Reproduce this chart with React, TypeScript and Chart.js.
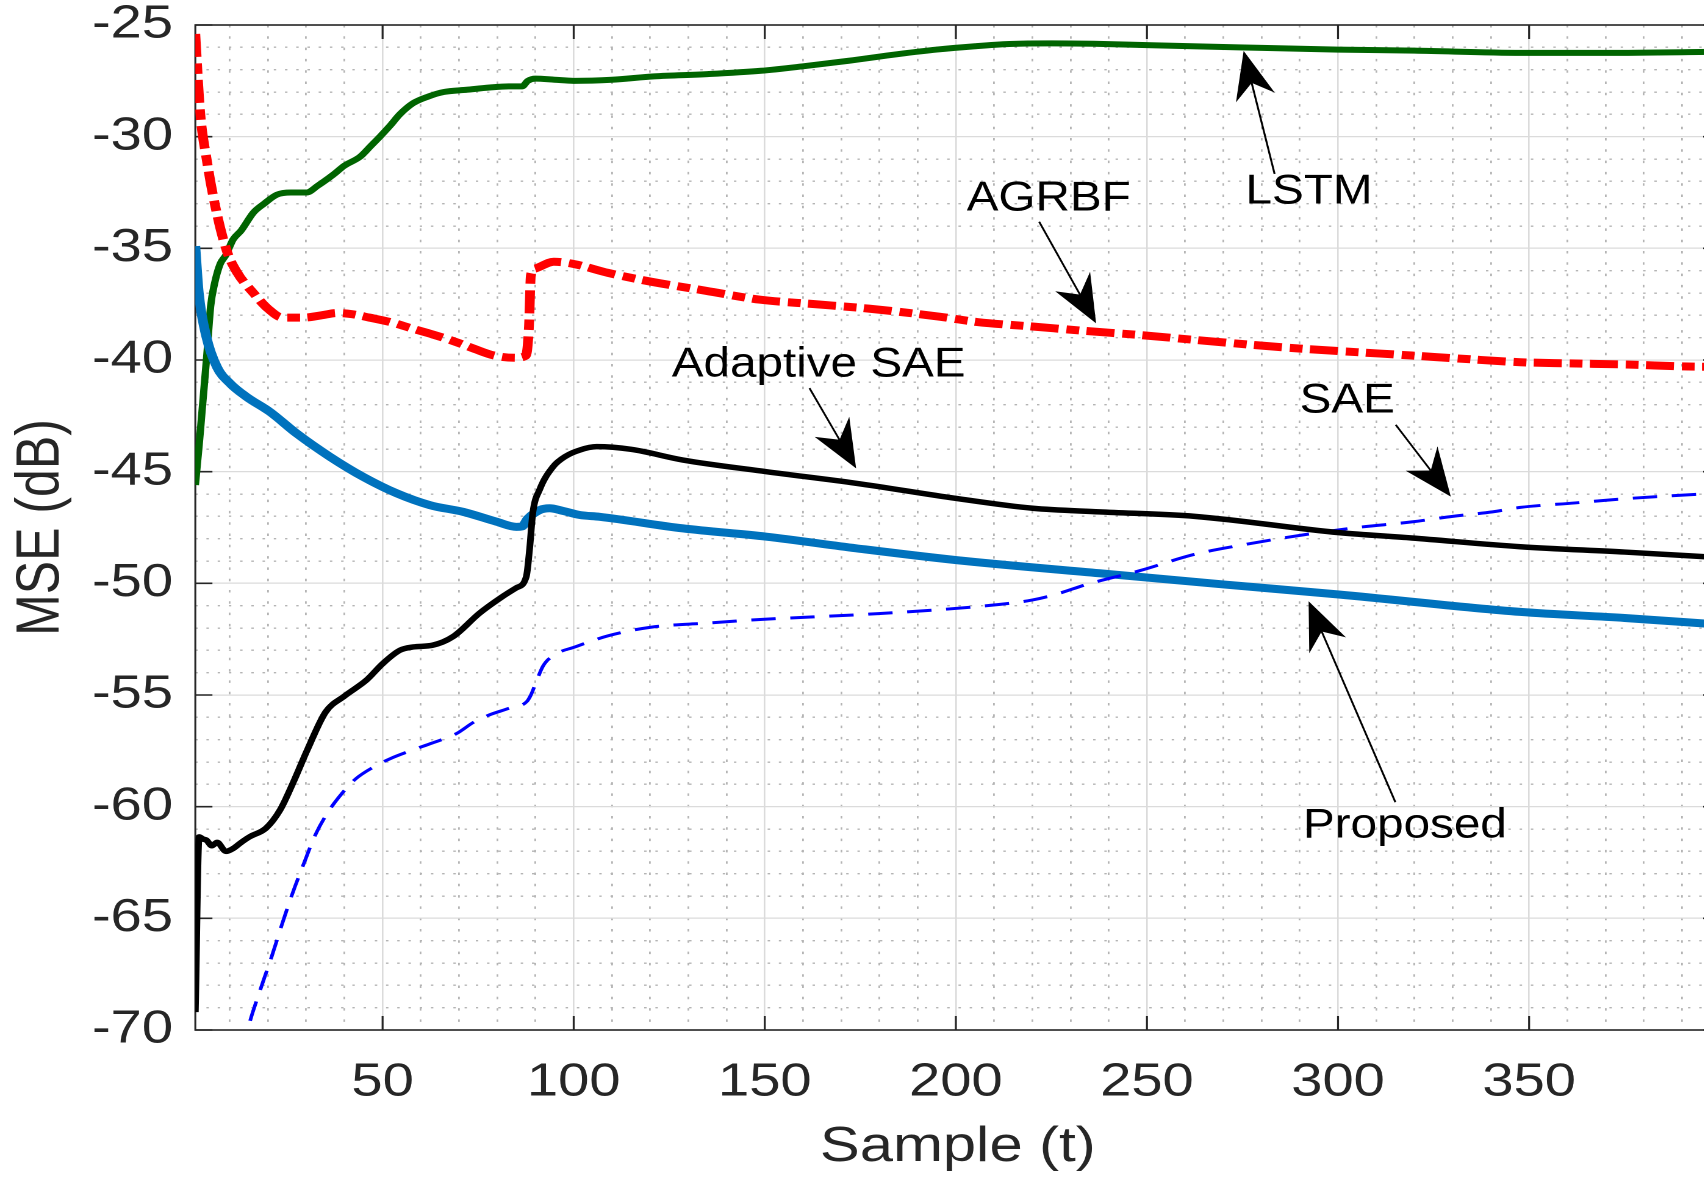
import React, { useEffect, useRef } from 'react';
import { Chart, registerables } from 'chart.js';

Chart.register(...registerables);

// ---------------- data ----------------
const lstmT = [1, 2, 3, 4, 5, 6, 7.5, 9, 10.9, 13, 16.2, 19, 22.3, 26, 30.1, 33, 37.1, 40, 44.1, 47, 49.3, 52, 54.5, 58, 62, 66, 72, 78, 83, 86.5, 88, 90, 95, 100, 110, 121, 135, 149, 160, 172, 185, 195, 205, 214, 225, 236, 250, 274, 300, 320, 348, 370, 400];
const lstmV = [-45.6, -43.8, -41.8, -39.8, -37.6, -36.6, -35.7, -35.3, -34.6, -34.2, -33.4, -33.0, -32.6, -32.5, -32.5, -32.2, -31.7, -31.3, -30.9, -30.4, -30.0, -29.5, -29.0, -28.5, -28.2, -28.0, -27.9, -27.8, -27.75, -27.75, -27.5, -27.4, -27.45, -27.5, -27.45, -27.3, -27.2, -27.05, -26.85, -26.6, -26.3, -26.1, -25.95, -25.85, -25.82, -25.84, -25.9, -26.0, -26.1, -26.15, -26.25, -26.25, -26.2];

const agrbfT = [1, 2.2, 4, 6.2, 9.2, 12, 16.2, 20, 23.8, 29.5, 34, 38, 42, 46.5, 52, 57.9, 63, 69.3, 74, 79.2, 84.9, 87.5, 88.3, 88.8, 90, 94.8, 100, 109, 120.4, 134.6, 148.8, 163, 177.2, 195.7, 205.6, 220, 234, 248, 262.5, 276, 290.9, 305, 319.3, 333, 347.7, 360, 375, 395.4, 400];
const agrbfV = [-25.4, -28.8, -31.05, -33.1, -35.1, -36.1, -37.0, -37.7, -38.1, -38.1, -38.0, -37.9, -37.95, -38.1, -38.3, -38.6, -38.85, -39.2, -39.5, -39.8, -39.9, -39.8, -38.5, -36.2, -35.9, -35.6, -35.7, -36.1, -36.5, -36.9, -37.3, -37.5, -37.7, -38.06, -38.3, -38.5, -38.7, -38.88, -39.1, -39.3, -39.5, -39.65, -39.8, -39.95, -40.1, -40.15, -40.2, -40.3, -40.3];

const adaptiveT = [1, 2, 3.0, 3.9, 5.3, 6.7, 9.0, 11.0, 13, 15.2, 19.5, 23.2, 26.6, 30.3, 35.1, 40, 45.8, 50, 54.5, 58, 63.1, 68.4, 75.4, 81.3, 85, 87.6, 88.5, 89.3, 91.1, 94.6, 98, 101.6, 106, 115, 128.6, 150.4, 173.9, 200.1, 220.1, 237.6, 262.5, 300.2, 319.3, 347.7, 375, 400];
const adaptiveV = [-69.2, -61.35, -61.45, -61.5, -61.75, -61.6, -62.0, -61.86, -61.6, -61.35, -60.96, -60.14, -58.92, -57.46, -55.76, -55.05, -54.33, -53.6, -53.0, -52.85, -52.77, -52.39, -51.33, -50.6, -50.2, -49.7, -48.4, -46.85, -45.8, -44.78, -44.3, -44.03, -43.88, -44.0, -44.48, -45.0, -45.52, -46.2, -46.64, -46.8, -47.0, -47.73, -47.97, -48.36, -48.6, -48.85];

const saeT = [13.5, 14.7, 18, 21, 24, 26.6, 29.5, 32.3, 35.5, 39.4, 43, 47.9, 52, 57.9, 63, 69.3, 74, 77.8, 83, 87.7, 88.8, 90, 92, 95, 100.5, 109, 120.4, 135, 148.8, 177.2, 205.6, 219.9, 227, 234, 248.2, 262.5, 276, 290.9, 305, 319.3, 330, 340.4, 347.7, 362, 376.1, 395.4, 400];
const saeV = [-71, -70, -68.2, -66.7, -65.1, -63.8, -62.5, -61.3, -60.3, -59.4, -58.75, -58.2, -57.85, -57.46, -57.15, -56.73, -56.2, -55.9, -55.6, -55.3, -55.0, -54.5, -53.7, -53.2, -52.84, -52.35, -51.96, -51.78, -51.62, -51.38, -51.04, -50.75, -50.45, -50.06, -49.43, -48.7, -48.25, -47.83, -47.5, -47.25, -47.0, -46.8, -46.6, -46.4, -46.2, -46.0, -45.95];

const proposedT = [1, 1.9, 3.9, 6.7, 10.1, 14.4, 20.5, 27.5, 36.2, 44.9, 53.7, 62.4, 71.1, 79.8, 85.0, 86.5, 88, 91.1, 93.7, 97, 101.6, 106.8, 128.6, 150.4, 173.9, 200.1, 237.6, 270, 300.2, 347.7, 375, 400];
const proposedV = [-34.9, -37.0, -38.97, -40.33, -41.05, -41.65, -42.32, -43.29, -44.33, -45.23, -45.97, -46.5, -46.8, -47.24, -47.47, -47.45, -47.1, -46.72, -46.64, -46.75, -46.94, -47.02, -47.54, -47.91, -48.43, -48.96, -49.55, -50.05, -50.5, -51.28, -51.55, -51.85];

// ticks
const xMajorTicks = [50, 100, 150, 200, 250, 300, 350, 400];
const xTickLabels = ['50', '100', '150', '200', '250', '300', '350', ''];
const yMajorTicks = [-70, -65, -60, -55, -50, -45, -40, -35, -30, -25];
const yTickLabels = ['-70', '-65', '-60', '-55', '-50', '-45', '-40', '-35', '-30', '-25'];

// annotations
const annoText = ['LSTM', 'AGRBF', 'Adaptive SAE', 'SAE', 'Proposed'];
const annoTextT = [292.4, 224.3, 164.1, 302.4, 317.5];
const annoTextV = [-32.48, -32.79, -40.23, -41.84, -60.87];
const annoTailT = [283.4, 221.8, 161.7, 315.1, 315.0];
const annoTailV = [-31.67, -33.81, -41.26, -42.9, -59.8];
const annoTipT = [275.3, 236.7, 173.9, 329.5, 292.3];
const annoTipV = [-26.16, -38.36, -44.85, -46.12, -50.8];

// ---------------- layout / style ----------------
const K = 1.22; // horizontal stretch of the whole figure
const CW = 1440;
const CH = 1180;
const PLOT_LEFT = 160.1;
const PLOT_RIGHT = 1411.1;
const FONT = "'Liberation Sans', Arial, Helvetica, sans-serif";
const AXIS_COLOR = '#262626';
const MAJOR_GRID = '#dbdbdb';
const MINOR_GRID = '#b4b4b4';

const pts = (t: number[], v: number[]) => t.map((x, i) => ({ x, y: v[i] }));

const xGridValues: number[] = [];
for (let v = 10; v <= 400; v += 10) xGridValues.push(v);
const yGridValues: number[] = [];
for (let v = -70; v <= -25; v += 1) yGridValues.push(v);

const boxPlugin = {
  id: 'matlabBox',
  beforeDatasetsDraw(chart: any) {
    const { ctx, chartArea } = chart;
    const { left, right, top, bottom } = chartArea;
    const xs = chart.scales.x;
    const ys = chart.scales.y;
    ctx.save();
    ctx.strokeStyle = AXIS_COLOR;
    ctx.lineWidth = 1.6;
    ctx.setLineDash([]);
    ctx.strokeRect(left, top, right - left, bottom - top);
    const tl = 14;
    ctx.beginPath();
    xMajorTicks.forEach((v) => {
      const px = xs.getPixelForValue(v);
      ctx.moveTo(px, bottom);
      ctx.lineTo(px, bottom - tl);
      ctx.moveTo(px, top);
      ctx.lineTo(px, top + tl);
    });
    yMajorTicks.forEach((v) => {
      const py = ys.getPixelForValue(v);
      ctx.moveTo(left, py);
      ctx.lineTo(left + tl, py);
      ctx.moveTo(right, py);
      ctx.lineTo(right - tl, py);
    });
    ctx.stroke();
    ctx.restore();
  },
};

const annoPlugin = {
  id: 'annotations',
  afterDatasetsDraw(chart: any) {
    const { ctx } = chart;
    const xs = chart.scales.x;
    const ys = chart.scales.y;
    ctx.save();
    ctx.fillStyle = '#000';
    ctx.strokeStyle = '#000';
    ctx.lineWidth = 1.6;
    ctx.setLineDash([]);
    for (let i = 0; i < annoText.length; i++) {
      // arrow computed in screen space (x * K), drawn in chart space
      const tx = xs.getPixelForValue(annoTailT[i]) * K;
      const ty = ys.getPixelForValue(annoTailV[i]);
      const hx = xs.getPixelForValue(annoTipT[i]) * K;
      const hy = ys.getPixelForValue(annoTipV[i]);
      const dx = hx - tx;
      const dy = hy - ty;
      const len = Math.hypot(dx, dy);
      const ux = dx / len;
      const uy = dy / len;
      const px = -uy;
      const py = ux;
      const L = 48;
      const W = 20;
      const N = 33;
      const nx = hx - ux * N;
      const ny = hy - uy * N;
      ctx.beginPath();
      ctx.moveTo(tx / K, ty);
      ctx.lineTo(nx / K, ny);
      ctx.stroke();
      ctx.beginPath();
      ctx.moveTo(hx / K, hy);
      ctx.lineTo((hx - ux * L + px * W) / K, hy - uy * L + py * W);
      ctx.lineTo(nx / K, ny);
      ctx.lineTo((hx - ux * L - px * W) / K, hy - uy * L - py * W);
      ctx.closePath();
      ctx.fill();

      const cx = xs.getPixelForValue(annoTextT[i]);
      const cy = ys.getPixelForValue(annoTextV[i]);
      ctx.save();
      ctx.translate(cx, cy);
      ctx.scale(1.134 / K, 1);
      ctx.font = `42px ${FONT}`;
      ctx.textAlign = 'center';
      ctx.textBaseline = 'middle';
      ctx.fillText(annoText[i], 0, 0);
      ctx.restore();
    }
    ctx.restore();
  },
};

export default function App() {
  const ref = useRef<HTMLCanvasElement>(null);

  useEffect(() => {
    const canvas = ref.current;
    if (!canvas) return;
    const base = {
      pointRadius: 0,
      pointHoverRadius: 0,
      fill: false,
      cubicInterpolationMode: 'monotone' as const,
      borderJoinStyle: 'round' as const,
      borderCapStyle: 'butt' as const,
    };
    const chart = new Chart(canvas, {
      type: 'line',
      data: {
        datasets: [
          { ...base, label: 'Adaptive SAE', data: pts(adaptiveT, adaptiveV), borderColor: '#000000', borderWidth: 5.5 },
          { ...base, label: 'SAE', data: pts(saeT, saeV), borderColor: '#0000ff', borderWidth: 3, borderDash: [20, 12] },
          { ...base, label: 'Proposed', data: pts(proposedT, proposedV), borderColor: '#0072bd', borderWidth: 8 },
          { ...base, label: 'AGRBF', data: pts(agrbfT, agrbfV), borderColor: '#ff0000', borderWidth: 8, borderDash: [23, 6.5, 10.5, 6] },
          { ...base, label: 'LSTM', data: pts(lstmT, lstmV), borderColor: '#006400', borderWidth: 6 },
        ],
      },
      options: {
        responsive: false,
        animation: false,
        devicePixelRatio: 2,
        events: [],
        layout: { padding: { top: 25, right: CW - PLOT_RIGHT, bottom: 0, left: 0 } },
        plugins: { legend: { display: false }, tooltip: { enabled: false }, title: { display: false } },
        scales: {
          x: {
            type: 'linear',
            min: 1,
            max: 400,
            afterBuildTicks: (s: any) => {
              s.ticks = xGridValues.map((v) => ({ value: v }));
            },
            afterFit: (s: any) => {
              s.height = 150;
            },
            ticks: {
              autoSkip: false,
              maxRotation: 0,
              minRotation: 0,
              padding: 30,
              color: AXIS_COLOR,
              font: { family: FONT, size: 46, lineHeight: 1 },
              callback: (v: any) => {
                const idx = xMajorTicks.indexOf(Number(v));
                return idx >= 0 ? xTickLabels[idx] : '';
              },
            },
            grid: {
              drawTicks: false,
              color: (c: any) => (c.tick && c.tick.value % 50 === 0 ? MAJOR_GRID : MINOR_GRID),
              lineWidth: (c: any) => (c.tick && c.tick.value % 50 === 0 ? 1.3 : 1.4),
            },
            border: {
              display: false,
              dash: (c: any) => (c.tick && c.tick.value % 50 === 0 ? [] : [2.5, 8.8]),
            },
            title: {
              display: true,
              text: 'Sample (t)',
              color: AXIS_COLOR,
              font: { family: FONT, size: 49, lineHeight: 1.2 },
              padding: { top: 0, bottom: 3 },
            },
          },
          y: {
            type: 'linear',
            min: -70,
            max: -25,
            afterBuildTicks: (s: any) => {
              s.ticks = yGridValues.map((v) => ({ value: v }));
            },
            afterFit: (s: any) => {
              s.width = PLOT_LEFT;
              s.paddingTop = 0;
              s.paddingBottom = 0;
            },
            ticks: {
              autoSkip: false,
              padding: 18.3,
              color: AXIS_COLOR,
              font: { family: FONT, size: 46, lineHeight: 0.2 },
              callback: (v: any) => {
                const idx = yMajorTicks.indexOf(Number(v));
                return idx >= 0 ? yTickLabels[idx] : '';
              },
            },
            grid: {
              drawTicks: false,
              color: (c: any) => (c.tick && c.tick.value % 5 === 0 ? MAJOR_GRID : MINOR_GRID),
              lineWidth: (c: any) => (c.tick && c.tick.value % 5 === 0 ? 1.3 : 1.4),
            },
            border: {
              display: false,
              dash: (c: any) => (c.tick && c.tick.value % 5 === 0 ? [] : [2.0, 7.2]),
            },
            title: {
              display: true,
              text: 'MSE (dB)',
              color: AXIS_COLOR,
              font: { family: FONT, size: 50, lineHeight: 1.2 },
              padding: { top: 4.4, bottom: 0 },
            },
          },
        },
      } as any,
      plugins: [boxPlugin, annoPlugin],
    });
    return () => chart.destroy();
  }, []);

  return (
    <div
      style={{
        position: 'fixed',
        left: 0,
        top: 0,
        width: 1704,
        height: 1180,
        overflow: 'hidden',
        background: '#ffffff',
      }}
    >
      <canvas
        ref={ref}
        width={CW}
        height={CH}
        style={{
          display: 'block',
          width: CW,
          height: CH,
          transform: `scaleX(${K})`,
          transformOrigin: '0 0',
        }}
      />
    </div>
  );
}
